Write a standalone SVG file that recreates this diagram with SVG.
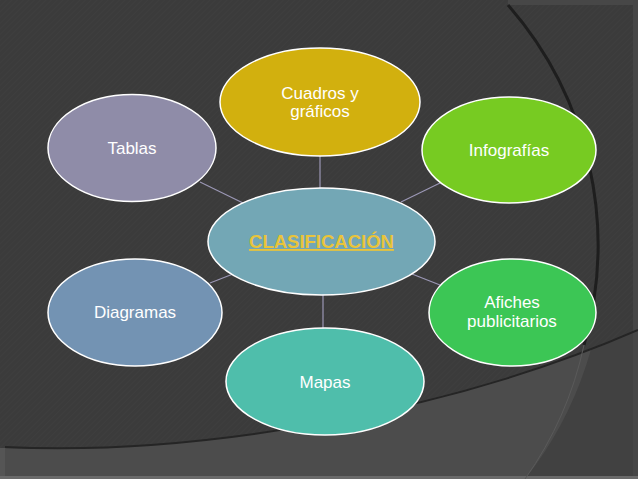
<svg xmlns="http://www.w3.org/2000/svg" width="638" height="479" viewBox="0 0 638 479">
<defs>
<pattern id="stripes" width="4" height="4" patternUnits="userSpaceOnUse" patternTransform="rotate(45)">
<rect width="4" height="4" fill="#3b3b3b"/>
<rect width="1" height="4" fill="#3e3e3e"/>
</pattern>
<clipPath id="leftOfArc">
<path d="M0,0 L508,0 L508,5 A365 365 0 0 1 525,479 L0,479 Z"/>
</clipPath>
</defs>
<style>
.node{stroke:#ffffff;stroke-width:1.5}
.lbl{font-family:"Liberation Sans",Arial,sans-serif;font-size:17px;fill:#ffffff;text-anchor:middle}
.conn line{stroke:#9b97b5;stroke-width:1.2}
</style>
<!-- background -->
<rect x="0" y="0" width="638" height="479" fill="url(#stripes)"/>
<rect x="508" y="0" width="130" height="5" fill="#474747"/>
<rect x="633" y="0" width="5" height="479" fill="#464646"/>
<path d="M0,448 C200,456 450,412 633,332 L633,479 L0,479 Z" fill="#414141"/>
<path d="M0,448 C200,456 450,412 633,332 L633,479 L0,479 Z" fill="#4c4c4c" clip-path="url(#leftOfArc)"/>
<rect x="0" y="448" width="5" height="31" fill="#555555"/>
<rect x="0" y="476" width="638" height="3" fill="#6a6a6a"/>
<path d="M5,447 C200,456 450,412 638,330" fill="none" stroke="#252525" stroke-width="2"/>
<path d="M508,5 A365 365 0 0 1 584,345" fill="none" stroke="#1e1e1e" stroke-width="3"/>
<path d="M584,345 A365 365 0 0 1 525,479" fill="none" stroke="#5a5a5a" stroke-width="1"/>
<!-- connectors -->
<g id="connectors" class="conn">
<line x1="200" y1="182" x2="243" y2="203"/>
<line x1="320" y1="156" x2="320" y2="188"/>
<line x1="440" y1="183" x2="401" y2="202"/>
<line x1="210" y1="283" x2="233" y2="274"/>
<line x1="323" y1="295" x2="323" y2="328"/>
<line x1="412" y1="274" x2="440" y2="285"/>
</g>
<!-- nodes -->
<g id="tablas">
<ellipse class="node" cx="132" cy="148" rx="84" ry="53.5" fill="#8f8ca8"/>
<text class="lbl" x="132" y="154">Tablas</text>
</g>
<g id="cuadros">
<ellipse class="node" cx="320" cy="102" rx="100" ry="54" fill="#d2b00e"/>
<text class="lbl" x="320" y="99">Cuadros y</text>
<text class="lbl" x="320" y="117">gráficos</text>
</g>
<g id="infografias">
<ellipse class="node" cx="509" cy="150" rx="87" ry="53" fill="#77cb22"/>
<text class="lbl" x="509" y="156">Infografías</text>
</g>
<g id="clasificacion">
<ellipse class="node" cx="321.5" cy="241.5" rx="113.5" ry="53.5" fill="#73a7b5"/>
<text x="321.5" y="248" font-family="Liberation Sans,Arial,sans-serif" font-size="18.5" font-weight="bold" fill="#e9c43a" text-anchor="middle" text-decoration="underline">CLASIFICACIÓN</text>
</g>
<g id="diagramas">
<ellipse class="node" cx="135" cy="312.5" rx="87" ry="53.5" fill="#7393b3"/>
<text class="lbl" x="135" y="318">Diagramas</text>
</g>
<g id="mapas">
<ellipse class="node" cx="325" cy="381.5" rx="99" ry="53.5" fill="#4fbeab"/>
<text class="lbl" x="325" y="388">Mapas</text>
</g>
<g id="afiches">
<ellipse class="node" cx="512.5" cy="312.5" rx="83.5" ry="53.5" fill="#3cc655"/>
<text class="lbl" x="512" y="308">Afiches</text>
<text class="lbl" x="512" y="327">publicitarios</text>
</g>
</svg>
